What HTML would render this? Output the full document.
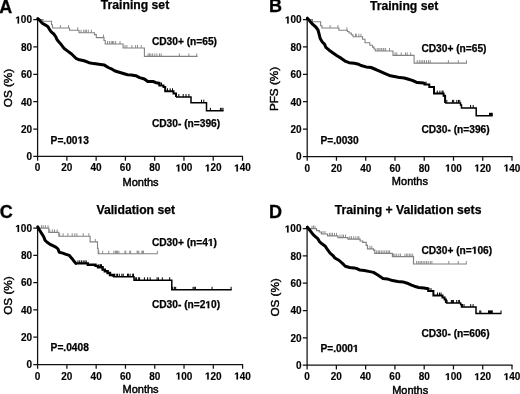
<!DOCTYPE html><html><head><meta charset="utf-8"><style>html,body{margin:0;padding:0;background:#fff;}svg{display:block;filter:blur(0.3px);}</style></head><body>
<svg width="520" height="394" viewBox="0 0 520 394" font-family='"Liberation Sans", sans-serif'>
<rect width="520" height="394" fill="#fff"/>
<g id="pA"><path d="M37.6 19.3V156.45H243" fill="none" stroke="#111" stroke-width="1.25"/><path d="M37.6 156.45v4.3M66.87 156.45v4.3M96.14 156.45v4.3M125.41 156.45v4.3M154.69 156.45v4.3M183.96 156.45v4.3M213.23 156.45v4.3M242.5 156.45v4.3M33.3 156.45h4.3M33.3 129.08h4.3M33.3 101.71h4.3M33.3 74.34h4.3M33.3 46.97h4.3M33.3 19.6h4.3" fill="none" stroke="#111" stroke-width="1.25"/><text x="37.6" y="171.45" font-size="10" font-weight="bold" text-anchor="middle" stroke="#000" stroke-width="0.15">0</text><text x="66.87" y="171.45" font-size="10" font-weight="bold" text-anchor="middle" stroke="#000" stroke-width="0.15">20</text><text x="96.14" y="171.45" font-size="10" font-weight="bold" text-anchor="middle" stroke="#000" stroke-width="0.15">40</text><text x="125.41" y="171.45" font-size="10" font-weight="bold" text-anchor="middle" stroke="#000" stroke-width="0.15">60</text><text x="154.69" y="171.45" font-size="10" font-weight="bold" text-anchor="middle" stroke="#000" stroke-width="0.15">80</text><text id="o0" x="183.96" y="171.45" font-size="10" font-weight="bold" text-anchor="middle" stroke="#000" stroke-width="0.15"> 00</text><text id="o1" x="213.23" y="171.45" font-size="10" font-weight="bold" text-anchor="middle" stroke="#000" stroke-width="0.15"> 20</text><text id="o2" x="242.5" y="171.45" font-size="10" font-weight="bold" text-anchor="middle" stroke="#000" stroke-width="0.15"> 40</text><text x="32" y="160.25" font-size="10" font-weight="bold" text-anchor="end" stroke="#000" stroke-width="0.15">0</text><text x="32" y="132.88" font-size="10" font-weight="bold" text-anchor="end" stroke="#000" stroke-width="0.15">20</text><text x="32" y="105.51" font-size="10" font-weight="bold" text-anchor="end" stroke="#000" stroke-width="0.15">40</text><text x="32" y="78.14" font-size="10" font-weight="bold" text-anchor="end" stroke="#000" stroke-width="0.15">60</text><text x="32" y="50.77" font-size="10" font-weight="bold" text-anchor="end" stroke="#000" stroke-width="0.15">80</text><text id="o3" x="32" y="23.4" font-size="10" font-weight="bold" text-anchor="end" stroke="#000" stroke-width="0.15"> 00</text><text x="140.6" y="185.5" font-size="11" text-anchor="middle" stroke="#000" stroke-width="0.45">Months</text><text transform="translate(11.5 88) rotate(-90)" font-size="11.7" text-anchor="middle" stroke="#000" stroke-width="0.45">OS (%)</text><text x="-0.7" y="12.6" font-size="18" font-weight="bold" stroke="#000" stroke-width="0.3">A</text><text x="100.8" y="8.9" font-size="12.2" font-weight="bold" stroke="#000" stroke-width="0.25">Training set</text><text x="151.9" y="45.4" font-size="10.2" font-weight="bold" stroke="#000" stroke-width="0.25">CD30+ (n=65)</text><text x="151.9" y="127.4" font-size="10.2" font-weight="bold" stroke="#000" stroke-width="0.25">CD30- (n=396)</text><text id="o4" x="50.6" y="143.6" font-size="10.2" font-weight="bold" stroke="#000" stroke-width="0.25">P=.00 3</text><path d="M37.6 19.6H43V21.3H51.5V24.8H52.5V28H69.5V30.2H79V32.7H94.5V34.6H96.3V37.6H104V40.5H105.2V44H123.1V48H144.4V56.4H197.6" fill="none" stroke="#828282" stroke-width="1.1" stroke-linejoin="miter" stroke-linecap="butt"/><path d="M60.40 28.00v-3.00M68.50 28.00v-3.00M77.70 30.20v-3.00M81.00 32.70v-3.00M83.70 32.70v-3.00M85.20 32.70v-3.00M86.40 32.70v-3.00M88.30 32.70v-3.00M91.40 32.70v-3.00M103.50 37.60v-3.00M107.50 44.00v-3.00M109.40 44.00v-3.00M111.25 44.00v-3.00M112.50 44.00v-3.00M113.75 44.00v-3.00M115.60 44.00v-3.00M120.00 44.00v-3.00M125.00 48.00v-3.00M126.90 48.00v-3.00M131.90 48.00v-3.00M135.60 48.00v-3.00M137.50 48.00v-3.00M141.25 48.00v-3.00M148.10 56.40v-3.00M149.40 56.40v-3.00M150.90 56.40v-3.00M152.60 56.40v-3.00M154.80 56.40v-3.00M156.90 56.40v-3.00M159.50 56.40v-3.00M161.20 56.40v-3.00M179.40 56.40v-3.00M188.90 56.40v-3.00M196.70 56.40v-3.00" fill="none" stroke="#828282" stroke-width="0.9"/><path d="M37.80 18.60 L39.80 20.40 L42.30 23.20 L45.50 25.10 L48.00 26.70 L49.60 29.60 L51.20 31.80 L53.80 34.00 L55.70 36.60 L56.90 39.40 L58.50 41.50 L61.00 44.30 L63.90 48.20 L67.70 51.10 L71.60 54.00 L75.90 58.30 L79.30 59.80 L84.10 60.75 L89.00 62.70 L93.80 63.60 L100.50 64.60 L104.40 65.10 L108.30 67.50 L112.50 69.40 L115.00 71.00 L120.00 72.50 L127.50 74.75 L131.25 74.90 L135.80 75.70 L139.60 77.60 L144.40 79.00 L147.80 81.50 L153.00 81.50 L156.00 82.70 L159.30 83.20" fill="none" stroke="#000" stroke-width="3.0" stroke-linejoin="round" stroke-linecap="round"/><path d="M159.3 83.2V85.5H163.5V87H165.2V91.3H173.5V93.5H176V97" fill="none" stroke="#000" stroke-width="2.0" stroke-linejoin="miter" stroke-linecap="butt"/><path d="M176 97H191V102.7H206.5V110.8H223.5" fill="none" stroke="#000" stroke-width="1.5" stroke-linejoin="miter" stroke-linecap="butt"/><path d="M161.50 85.50v-3.00M167.50 91.30v-3.00M170.20 91.30v-3.00M172.50 91.30v-3.00M178.80 97.00v-3.00M183.20 97.00v-3.00M186.00 97.00v-3.00M188.90 97.00v-3.00M201.50 102.70v-3.00M203.80 102.70v-3.00M210.40 110.80v-3.00M220.40 110.80v-3.00M221.80 110.80v-3.00M223.00 110.80v-3.00" fill="none" stroke="#000" stroke-width="1.0"/></g>
<g id="pB"><path d="M307.2 19.3V156.5H512.5" fill="none" stroke="#111" stroke-width="1.25"/><path d="M307.2 156.5v4.3M336.46 156.5v4.3M365.71 156.5v4.3M394.97 156.5v4.3M424.23 156.5v4.3M453.49 156.5v4.3M482.74 156.5v4.3M512 156.5v4.3M302.9 156.5h4.3M302.9 129.12h4.3M302.9 101.74h4.3M302.9 74.36h4.3M302.9 46.98h4.3M302.9 19.6h4.3" fill="none" stroke="#111" stroke-width="1.25"/><text x="307.2" y="171.5" font-size="10" font-weight="bold" text-anchor="middle" stroke="#000" stroke-width="0.15">0</text><text x="336.46" y="171.5" font-size="10" font-weight="bold" text-anchor="middle" stroke="#000" stroke-width="0.15">20</text><text x="365.71" y="171.5" font-size="10" font-weight="bold" text-anchor="middle" stroke="#000" stroke-width="0.15">40</text><text x="394.97" y="171.5" font-size="10" font-weight="bold" text-anchor="middle" stroke="#000" stroke-width="0.15">60</text><text x="424.23" y="171.5" font-size="10" font-weight="bold" text-anchor="middle" stroke="#000" stroke-width="0.15">80</text><text id="o5" x="453.49" y="171.5" font-size="10" font-weight="bold" text-anchor="middle" stroke="#000" stroke-width="0.15"> 00</text><text id="o6" x="482.74" y="171.5" font-size="10" font-weight="bold" text-anchor="middle" stroke="#000" stroke-width="0.15"> 20</text><text id="o7" x="512" y="171.5" font-size="10" font-weight="bold" text-anchor="middle" stroke="#000" stroke-width="0.15"> 40</text><text x="301.6" y="160.3" font-size="10" font-weight="bold" text-anchor="end" stroke="#000" stroke-width="0.15">0</text><text x="301.6" y="132.92" font-size="10" font-weight="bold" text-anchor="end" stroke="#000" stroke-width="0.15">20</text><text x="301.6" y="105.54" font-size="10" font-weight="bold" text-anchor="end" stroke="#000" stroke-width="0.15">40</text><text x="301.6" y="78.16" font-size="10" font-weight="bold" text-anchor="end" stroke="#000" stroke-width="0.15">60</text><text x="301.6" y="50.78" font-size="10" font-weight="bold" text-anchor="end" stroke="#000" stroke-width="0.15">80</text><text id="o8" x="301.6" y="23.4" font-size="10" font-weight="bold" text-anchor="end" stroke="#000" stroke-width="0.15"> 00</text><text x="409.9" y="185.2" font-size="11" text-anchor="middle" stroke="#000" stroke-width="0.45">Months</text><text transform="translate(277.9 89) rotate(-90)" font-size="11.7" text-anchor="middle" stroke="#000" stroke-width="0.45">PFS (%)</text><text x="268.9" y="12.3" font-size="18" font-weight="bold" stroke="#000" stroke-width="0.3">B</text><text x="369.9" y="9.7" font-size="12.2" font-weight="bold" stroke="#000" stroke-width="0.25">Training set</text><text x="421.4" y="52.4" font-size="10.2" font-weight="bold" stroke="#000" stroke-width="0.25">CD30+ (n=65)</text><text x="421.4" y="132.7" font-size="10.2" font-weight="bold" stroke="#000" stroke-width="0.25">CD30- (n=396)</text><text x="320.4" y="143.6" font-size="10.2" font-weight="bold" stroke="#000" stroke-width="0.25">P=.0030</text><path d="M307.2 19.6H312.5V21.8H320.6V25.7H322V28H338.9V30.3H347.4V31.5H349V33H351.3V34.8H353V36.7H362.6V39.2H365V42.7H369.8V45.2H372.5V47.1H374V49H375.3V51H393V55.4H414.1V63.1H467" fill="none" stroke="#828282" stroke-width="1.1" stroke-linejoin="miter" stroke-linecap="butt"/><path d="M330.10 28.00v-3.00M337.90 28.00v-3.00M346.90 30.30v-3.00M355.50 36.70v-3.00M356.30 36.70v-3.00M358.80 36.70v-3.00M361.00 36.70v-3.00M377.20 51.00v-3.00M378.80 51.00v-3.00M380.00 51.00v-3.00M381.60 51.00v-3.00M383.20 51.00v-3.00M383.90 51.00v-3.00M385.60 51.00v-3.00M389.50 51.00v-3.00M395.10 55.40v-3.00M396.80 55.40v-3.00M401.20 55.40v-3.00M405.50 55.40v-3.00M407.20 55.40v-3.00M410.70 55.40v-3.00M417.20 63.10v-3.00M419.30 63.10v-3.00M421.10 63.10v-3.00M422.80 63.10v-3.00M424.50 63.10v-3.00M426.50 63.10v-3.00M428.50 63.10v-3.00M430.20 63.10v-3.00M448.40 63.10v-3.00M458.30 63.10v-3.00M466.50 63.10v-3.00" fill="none" stroke="#828282" stroke-width="0.9"/><path d="M307.40 18.20 L310.20 21.40 L312.80 24.40 L315.80 27.00 L318.00 30.00 L319.30 34.80 L320.20 38.50 L322.30 42.00 L324.50 44.10 L325.80 47.30 L329.20 50.20 L332.70 52.80 L337.00 55.80 L341.40 58.40 L345.70 61.40 L349.10 62.70 L354.30 63.30 L358.70 64.30 L361.00 65.50 L366.00 66.90 L371.10 67.50 L374.60 69.00 L378.90 70.80 L385.20 73.70 L390.40 75.80 L395.60 76.70 L399.90 77.60 L404.20 78.00 L408.50 79.30 L412.90 80.60 L417.20 82.60 L423.50 83.00" fill="none" stroke="#000" stroke-width="3.0" stroke-linejoin="round" stroke-linecap="round"/><path d="M423.5 83H424.5V84.5H429.3V87.1H434V93.6H443.6V95.8H445.1V102.9" fill="none" stroke="#000" stroke-width="2.0" stroke-linejoin="miter" stroke-linecap="butt"/><path d="M445.1 102.9H460.5V105H461.5V108H476.2V115.8H492.6" fill="none" stroke="#000" stroke-width="1.5" stroke-linejoin="miter" stroke-linecap="butt"/><path d="M426.00 84.50v-3.00M437.30 93.60v-3.00M439.90 93.60v-3.00M442.10 93.60v-3.00M443.00 93.60v-3.00M446.80 102.90v-3.00M452.40 102.90v-3.00M453.70 102.90v-3.00M456.80 102.90v-3.00M458.50 102.90v-3.00M459.80 102.90v-3.00M470.60 108.00v-3.00M473.20 108.00v-3.00M489.50 115.80v-3.00M490.50 115.80v-3.00M491.50 115.80v-3.00M492.30 115.80v-3.00" fill="none" stroke="#000" stroke-width="1.0"/></g>
<g id="pC"><path d="M37.6 227.8V364.5H243.1" fill="none" stroke="#111" stroke-width="1.25"/><path d="M37.6 364.5v4.3M66.89 364.5v4.3M96.17 364.5v4.3M125.46 364.5v4.3M154.74 364.5v4.3M184.03 364.5v4.3M213.31 364.5v4.3M242.6 364.5v4.3M33.3 364.5h4.3M33.3 337.22h4.3M33.3 309.94h4.3M33.3 282.66h4.3M33.3 255.38h4.3M33.3 228.1h4.3" fill="none" stroke="#111" stroke-width="1.25"/><text x="37.6" y="379.5" font-size="10" font-weight="bold" text-anchor="middle" stroke="#000" stroke-width="0.15">0</text><text x="66.89" y="379.5" font-size="10" font-weight="bold" text-anchor="middle" stroke="#000" stroke-width="0.15">20</text><text x="96.17" y="379.5" font-size="10" font-weight="bold" text-anchor="middle" stroke="#000" stroke-width="0.15">40</text><text x="125.46" y="379.5" font-size="10" font-weight="bold" text-anchor="middle" stroke="#000" stroke-width="0.15">60</text><text x="154.74" y="379.5" font-size="10" font-weight="bold" text-anchor="middle" stroke="#000" stroke-width="0.15">80</text><text id="o9" x="184.03" y="379.5" font-size="10" font-weight="bold" text-anchor="middle" stroke="#000" stroke-width="0.15"> 00</text><text id="o10" x="213.31" y="379.5" font-size="10" font-weight="bold" text-anchor="middle" stroke="#000" stroke-width="0.15"> 20</text><text id="o11" x="242.6" y="379.5" font-size="10" font-weight="bold" text-anchor="middle" stroke="#000" stroke-width="0.15"> 40</text><text x="32" y="368.3" font-size="10" font-weight="bold" text-anchor="end" stroke="#000" stroke-width="0.15">0</text><text x="32" y="341.02" font-size="10" font-weight="bold" text-anchor="end" stroke="#000" stroke-width="0.15">20</text><text x="32" y="313.74" font-size="10" font-weight="bold" text-anchor="end" stroke="#000" stroke-width="0.15">40</text><text x="32" y="286.46" font-size="10" font-weight="bold" text-anchor="end" stroke="#000" stroke-width="0.15">60</text><text x="32" y="259.18" font-size="10" font-weight="bold" text-anchor="end" stroke="#000" stroke-width="0.15">80</text><text id="o12" x="32" y="231.9" font-size="10" font-weight="bold" text-anchor="end" stroke="#000" stroke-width="0.15"> 00</text><text x="140.6" y="392.9" font-size="11" text-anchor="middle" stroke="#000" stroke-width="0.45">Months</text><text transform="translate(11.5 295.6) rotate(-90)" font-size="11.7" text-anchor="middle" stroke="#000" stroke-width="0.45">OS (%)</text><text x="-0.3" y="217.6" font-size="18" font-weight="bold" stroke="#000" stroke-width="0.3">C</text><text x="96.5" y="214.1" font-size="12.2" font-weight="bold" stroke="#000" stroke-width="0.25">Validation set</text><text id="o13" x="151.9" y="245.9" font-size="10.2" font-weight="bold" stroke="#000" stroke-width="0.25">CD30+ (n=4 )</text><text id="o14" x="151.9" y="308.2" font-size="10.2" font-weight="bold" stroke="#000" stroke-width="0.25">CD30- (n=2 0)</text><text x="50.6" y="351.4" font-size="10.2" font-weight="bold" stroke="#000" stroke-width="0.25">P=.0408</text><path d="M37.6 228.1H48.8V232.4H58.8V236.2H90.1V241.9H97.5V248.4H98.2V253.7H157.8" fill="none" stroke="#828282" stroke-width="1.1" stroke-linejoin="miter" stroke-linecap="butt"/><path d="M41.50 228.10v-3.00M43.20 228.10v-3.00M45.40 228.10v-3.00M48.00 228.10v-3.00M49.70 232.40v-3.00M52.30 232.40v-3.00M54.50 232.40v-3.00M57.10 232.40v-3.00M59.70 236.20v-3.00M63.10 236.20v-3.00M67.90 236.20v-3.00M72.20 236.20v-3.00M74.80 236.20v-3.00M76.90 236.20v-3.00M83.20 236.20v-3.00M88.80 236.20v-3.00M95.30 241.90v-3.00M98.80 253.70v-3.00M102.70 253.70v-3.00M108.70 253.70v-3.00M113.90 253.70v-3.00M115.40 253.70v-3.00M116.40 253.70v-3.00M117.50 253.70v-3.00M118.90 253.70v-3.00M124.90 253.70v-3.00M125.80 253.70v-3.00M129.70 253.70v-3.00M130.60 253.70v-3.00M137.10 253.70v-3.00M137.90 253.70v-3.00M138.80 253.70v-3.00M141.80 253.70v-3.00M142.70 253.70v-3.00M143.50 253.70v-3.00M157.40 253.70v-3.00" fill="none" stroke="#828282" stroke-width="0.9"/><path d="M37.80 226.90 L39.30 229.80 L41.50 233.20 L43.70 236.70 L45.00 240.20 L47.10 242.30 L49.70 244.10 L52.30 245.40 L55.80 247.10 L57.90 248.80 L59.20 252.30 L62.70 253.10 L66.10 254.40 L69.30 255.40 L71.90 258.40 L74.50 261.80 L75.80 263.40" fill="none" stroke="#000" stroke-width="3.0" stroke-linejoin="round" stroke-linecap="round"/><path d="M75.8 263.4H87.8V264.7H95.5V265.9H98V267.2H102.6V269.6H104.8V271.3H107.6V273H110V275H113V276.7" fill="none" stroke="#000" stroke-width="2.4" stroke-linejoin="miter" stroke-linecap="butt"/><path d="M113 276.7H134V280.3H171.8V289.8H231.7" fill="none" stroke="#000" stroke-width="1.5" stroke-linejoin="miter" stroke-linecap="butt"/><path d="M78.00 263.40v-3.00M79.70 263.40v-3.00M81.40 263.40v-3.00M83.20 263.40v-3.00M84.90 263.40v-3.00M86.20 263.40v-3.00M99.00 267.20v-3.00M100.50 267.20v-3.00M101.50 267.20v-3.00M114.50 276.70v-3.00M116.20 276.70v-3.00M117.50 276.70v-3.00M119.30 276.70v-3.00M121.90 276.70v-3.00M123.20 276.70v-3.00M127.50 276.70v-3.00M128.40 276.70v-3.00M130.10 276.70v-3.00M132.70 276.70v-3.00M133.50 276.70v-3.00M135.30 280.30v-3.00M136.60 280.30v-3.00M138.70 280.30v-3.00M139.60 280.30v-3.00M144.40 280.30v-3.00M147.60 280.30v-3.00M150.20 280.30v-3.00M157.10 280.30v-3.00M158.40 280.30v-3.00M162.30 280.30v-3.00M169.70 280.30v-3.00M172.70 289.80v-3.00M174.40 289.80v-3.00M175.70 289.80v-3.00M193.10 289.80v-3.00M194.20 289.80v-3.00M195.40 289.80v-3.00M212.10 289.80v-3.00M231.10 289.80v-3.00" fill="none" stroke="#000" stroke-width="1.0"/></g>
<g id="pD"><path d="M307.1 228.3V365.1H512.5" fill="none" stroke="#111" stroke-width="1.25"/><path d="M307.1 365.1v4.3M336.37 365.1v4.3M365.64 365.1v4.3M394.91 365.1v4.3M424.19 365.1v4.3M453.46 365.1v4.3M482.73 365.1v4.3M512 365.1v4.3M302.8 365.1h4.3M302.8 337.8h4.3M302.8 310.5h4.3M302.8 283.2h4.3M302.8 255.9h4.3M302.8 228.6h4.3" fill="none" stroke="#111" stroke-width="1.25"/><text x="307.1" y="380.1" font-size="10" font-weight="bold" text-anchor="middle" stroke="#000" stroke-width="0.15">0</text><text x="336.37" y="380.1" font-size="10" font-weight="bold" text-anchor="middle" stroke="#000" stroke-width="0.15">20</text><text x="365.64" y="380.1" font-size="10" font-weight="bold" text-anchor="middle" stroke="#000" stroke-width="0.15">40</text><text x="394.91" y="380.1" font-size="10" font-weight="bold" text-anchor="middle" stroke="#000" stroke-width="0.15">60</text><text x="424.19" y="380.1" font-size="10" font-weight="bold" text-anchor="middle" stroke="#000" stroke-width="0.15">80</text><text id="o15" x="453.46" y="380.1" font-size="10" font-weight="bold" text-anchor="middle" stroke="#000" stroke-width="0.15"> 00</text><text id="o16" x="482.73" y="380.1" font-size="10" font-weight="bold" text-anchor="middle" stroke="#000" stroke-width="0.15"> 20</text><text id="o17" x="512" y="380.1" font-size="10" font-weight="bold" text-anchor="middle" stroke="#000" stroke-width="0.15"> 40</text><text x="301.5" y="368.9" font-size="10" font-weight="bold" text-anchor="end" stroke="#000" stroke-width="0.15">0</text><text x="301.5" y="341.6" font-size="10" font-weight="bold" text-anchor="end" stroke="#000" stroke-width="0.15">20</text><text x="301.5" y="314.3" font-size="10" font-weight="bold" text-anchor="end" stroke="#000" stroke-width="0.15">40</text><text x="301.5" y="287" font-size="10" font-weight="bold" text-anchor="end" stroke="#000" stroke-width="0.15">60</text><text x="301.5" y="259.7" font-size="10" font-weight="bold" text-anchor="end" stroke="#000" stroke-width="0.15">80</text><text id="o18" x="301.5" y="232.4" font-size="10" font-weight="bold" text-anchor="end" stroke="#000" stroke-width="0.15"> 00</text><text x="410.2" y="393.5" font-size="11" text-anchor="middle" stroke="#000" stroke-width="0.45">Months</text><text transform="translate(278.6 297.4) rotate(-90)" font-size="11.7" text-anchor="middle" stroke="#000" stroke-width="0.45">OS (%)</text><text x="269" y="217.9" font-size="18" font-weight="bold" stroke="#000" stroke-width="0.3">D</text><text x="334.8" y="214.2" font-size="12.2" font-weight="bold" stroke="#000" stroke-width="0.25">Training + Validation sets</text><text id="o19" x="421.4" y="253.8" font-size="10.2" font-weight="bold" stroke="#000" stroke-width="0.25">CD30+ (n= 06)</text><text x="421.4" y="336.5" font-size="10.2" font-weight="bold" stroke="#000" stroke-width="0.25">CD30- (n=606)</text><text id="o20" x="320.4" y="351.9" font-size="10.2" font-weight="bold" stroke="#000" stroke-width="0.25">P=.000 </text><path d="M307.2 228.6H316.5V230.7H319.3V232H321.4V234H327.5V235.8H337.9V237.6H348V239.2H360.1V241H362.7V242.3H366.2V245.3H367.5V248.8H373.5V250.1H374.8V253.4H392.4V256.6H413.5V264H466.8" fill="none" stroke="#828282" stroke-width="1.2" stroke-linejoin="miter" stroke-linecap="butt"/><path d="M312.00 228.60v-3.00M313.50 228.60v-3.00M315.00 228.60v-3.00M323.00 234.00v-3.00M325.00 234.00v-3.00M329.50 235.80v-3.00M331.00 235.80v-3.00M332.50 235.80v-3.00M334.50 235.80v-3.00M336.50 235.80v-3.00M340.00 237.60v-3.00M342.00 237.60v-3.00M343.50 237.60v-3.00M345.50 237.60v-3.00M349.80 239.20v-3.00M351.50 239.20v-3.00M353.70 239.20v-3.00M355.80 239.20v-3.00M358.00 239.20v-3.00M358.80 239.20v-3.00M370.00 248.80v-3.00M371.80 248.80v-3.00M376.60 253.40v-3.00M378.30 253.40v-3.00M379.60 253.40v-3.00M381.30 253.40v-3.00M383.00 253.40v-3.00M384.80 253.40v-3.00M386.60 253.40v-3.00M388.20 253.40v-3.00M389.60 253.40v-3.00M393.60 256.60v-3.00M395.00 256.60v-3.00M396.70 256.60v-3.00M398.80 256.60v-3.00M400.60 256.60v-3.00M404.90 256.60v-3.00M406.60 256.60v-3.00M407.90 256.60v-3.00M409.70 256.60v-3.00M411.00 256.60v-3.00M412.70 256.60v-3.00M416.60 264.00v-3.00M418.30 264.00v-3.00M420.00 264.00v-3.00M421.30 264.00v-3.00M423.10 264.00v-3.00M424.80 264.00v-3.00M426.50 264.00v-3.00M428.20 264.00v-3.00M430.30 264.00v-3.00M431.90 264.00v-3.00M448.80 264.00v-3.00M458.30 264.00v-3.00M466.30 264.00v-3.00" fill="none" stroke="#828282" stroke-width="0.9"/><path d="M307.40 227.20 L310.20 230.70 L312.80 234.10 L315.40 236.70 L318.00 238.90 L319.70 241.90 L322.30 244.10 L325.30 246.20 L327.50 249.70 L330.10 253.10 L332.70 255.30 L334.90 258.00 L339.20 260.50 L342.70 263.60 L345.30 266.20 L349.60 267.50 L354.00 267.90 L357.40 268.80 L360.00 270.10 L364.30 270.50 L368.70 271.40 L373.50 272.40 L377.80 275.00 L383.00 278.40 L387.30 278.90 L392.50 280.60 L397.70 281.50 L402.90 281.90 L407.20 283.20 L411.50 285.20 L414.30 286.20 L418.70 287.50 L423.80 288.00 L428.20 288.80" fill="none" stroke="#000" stroke-width="3.0" stroke-linejoin="round" stroke-linecap="round"/><path d="M428.2 288.8V291H433.4V295.5H442.5V297.5H444.6V299.5H445.9V303" fill="none" stroke="#000" stroke-width="2.0" stroke-linejoin="miter" stroke-linecap="butt"/><path d="M445.9 303H460.6V304.4H461.5V307.1H476V313.4H501.4" fill="none" stroke="#000" stroke-width="1.5" stroke-linejoin="miter" stroke-linecap="butt"/><path d="M431.00 291.00v-3.00M437.50 295.50v-3.00M439.50 295.50v-3.00M441.00 295.50v-3.00M447.10 303.00v-3.00M451.40 303.00v-3.00M452.40 303.00v-3.00M453.40 303.00v-3.00M456.70 303.00v-3.00M458.70 303.00v-3.00M459.40 303.00v-3.00M462.50 307.10v-3.00M464.00 307.10v-3.00M470.70 307.10v-3.00M473.10 307.10v-3.00M479.80 313.40v-3.00M480.80 313.40v-3.00M488.50 313.40v-3.00M489.50 313.40v-3.00M490.50 313.40v-3.00M491.50 313.40v-3.00M492.30 313.40v-3.00M501.00 313.40v-3.00" fill="none" stroke="#000" stroke-width="1.0"/></g>
<path d="M177.87 171.45 L177.87 165.79 L176.25 166.79 L176.25 165.69 L178.01 164.57 L179.39 164.57 L179.39 171.45Z" fill="#000" stroke="#000" stroke-width="0.15" stroke-linejoin="miter"/><path d="M207.14 171.45 L207.14 165.79 L205.52 166.79 L205.52 165.69 L207.28 164.57 L208.66 164.57 L208.66 171.45Z" fill="#000" stroke="#000" stroke-width="0.15" stroke-linejoin="miter"/><path d="M236.41 171.45 L236.41 165.79 L234.79 166.79 L234.79 165.69 L236.55 164.57 L237.93 164.57 L237.93 171.45Z" fill="#000" stroke="#000" stroke-width="0.15" stroke-linejoin="miter"/><path d="M17.57 23.40 L17.57 17.74 L15.95 18.74 L15.95 17.64 L17.71 16.52 L19.08 16.52 L19.08 23.40Z" fill="#000" stroke="#000" stroke-width="0.15" stroke-linejoin="miter"/><path d="M79.81 143.60 L79.81 137.82 L78.15 138.84 L78.15 137.72 L79.95 136.58 L81.35 136.58 L81.35 143.60Z" fill="#000" stroke="#000" stroke-width="0.25" stroke-linejoin="miter"/><path d="M447.40 171.50 L447.40 165.84 L445.78 166.84 L445.78 165.74 L447.54 164.62 L448.92 164.62 L448.92 171.50Z" fill="#000" stroke="#000" stroke-width="0.15" stroke-linejoin="miter"/><path d="M476.65 171.50 L476.65 165.84 L475.03 166.84 L475.03 165.74 L476.79 164.62 L478.17 164.62 L478.17 171.50Z" fill="#000" stroke="#000" stroke-width="0.15" stroke-linejoin="miter"/><path d="M505.91 171.50 L505.91 165.84 L504.29 166.84 L504.29 165.74 L506.05 164.62 L507.43 164.62 L507.43 171.50Z" fill="#000" stroke="#000" stroke-width="0.15" stroke-linejoin="miter"/><path d="M287.17 23.40 L287.17 17.74 L285.55 18.74 L285.55 17.64 L287.31 16.52 L288.68 16.52 L288.68 23.40Z" fill="#000" stroke="#000" stroke-width="0.15" stroke-linejoin="miter"/><path d="M177.94 379.50 L177.94 373.84 L176.32 374.84 L176.32 373.74 L178.08 372.62 L179.46 372.62 L179.46 379.50Z" fill="#000" stroke="#000" stroke-width="0.15" stroke-linejoin="miter"/><path d="M207.22 379.50 L207.22 373.84 L205.60 374.84 L205.60 373.74 L207.36 372.62 L208.74 372.62 L208.74 379.50Z" fill="#000" stroke="#000" stroke-width="0.15" stroke-linejoin="miter"/><path d="M236.51 379.50 L236.51 373.84 L234.89 374.84 L234.89 373.74 L236.65 372.62 L238.03 372.62 L238.03 379.50Z" fill="#000" stroke="#000" stroke-width="0.15" stroke-linejoin="miter"/><path d="M17.57 231.90 L17.57 226.24 L15.95 227.24 L15.95 226.14 L17.71 225.02 L19.08 225.02 L19.08 231.90Z" fill="#000" stroke="#000" stroke-width="0.15" stroke-linejoin="miter"/><path d="M210.25 245.90 L210.25 240.12 L208.59 241.14 L208.59 240.02 L210.39 238.88 L211.79 238.88 L211.79 245.90Z" fill="#000" stroke="#000" stroke-width="0.25" stroke-linejoin="miter"/><path d="M207.69 308.20 L207.69 302.42 L206.03 303.44 L206.03 302.32 L207.82 301.18 L209.23 301.18 L209.23 308.20Z" fill="#000" stroke="#000" stroke-width="0.25" stroke-linejoin="miter"/><path d="M447.37 380.10 L447.37 374.44 L445.75 375.44 L445.75 374.34 L447.51 373.22 L448.89 373.22 L448.89 380.10Z" fill="#000" stroke="#000" stroke-width="0.15" stroke-linejoin="miter"/><path d="M476.64 380.10 L476.64 374.44 L475.02 375.44 L475.02 374.34 L476.78 373.22 L478.16 373.22 L478.16 380.10Z" fill="#000" stroke="#000" stroke-width="0.15" stroke-linejoin="miter"/><path d="M505.91 380.10 L505.91 374.44 L504.29 375.44 L504.29 374.34 L506.05 373.22 L507.43 373.22 L507.43 380.10Z" fill="#000" stroke="#000" stroke-width="0.15" stroke-linejoin="miter"/><path d="M287.07 232.40 L287.07 226.74 L285.45 227.74 L285.45 226.64 L287.21 225.52 L288.58 225.52 L288.58 232.40Z" fill="#000" stroke="#000" stroke-width="0.15" stroke-linejoin="miter"/><path d="M474.08 253.80 L474.08 248.02 L472.42 249.04 L472.42 247.92 L474.22 246.78 L475.62 246.78 L475.62 253.80Z" fill="#000" stroke="#000" stroke-width="0.25" stroke-linejoin="miter"/><path d="M355.26 351.90 L355.26 346.12 L353.61 347.14 L353.61 346.02 L355.40 344.88 L356.81 344.88 L356.81 351.90Z" fill="#000" stroke="#000" stroke-width="0.25" stroke-linejoin="miter"/>
</svg></body></html>
